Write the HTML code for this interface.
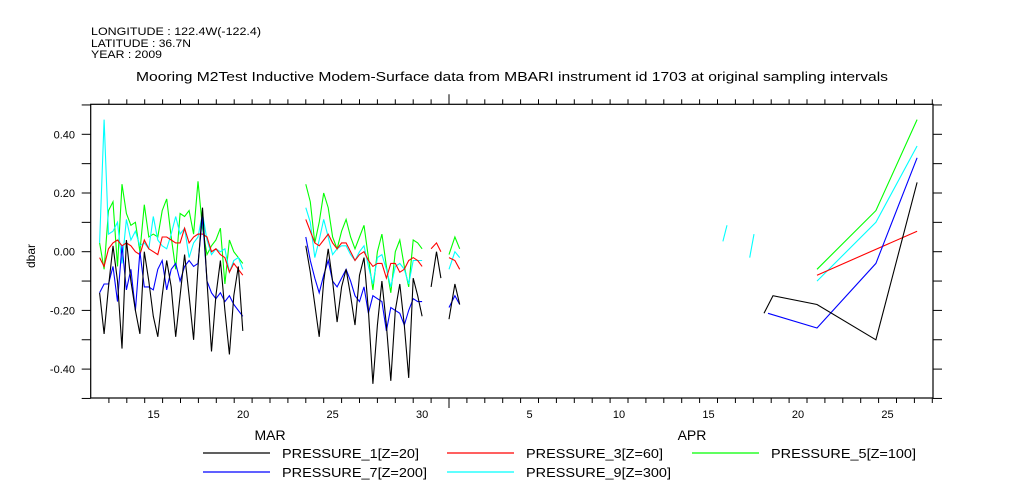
<!DOCTYPE html>
<html><head><meta charset="utf-8"><style>
html,body{margin:0;padding:0;background:#fff;}
svg{display:block;font-family:"Liberation Sans",sans-serif;}
</style></head><body>
<svg id="chart" width="1009" height="504" viewBox="0 0 1009 504" xmlns="http://www.w3.org/2000/svg">
<rect width="1009" height="504" fill="#fff"/>
<g font-size="11" fill="#000">
<text x="91" y="35" textLength="170" lengthAdjust="spacingAndGlyphs">LONGITUDE : 122.4W(-122.4)</text>
<text x="91" y="47" textLength="100" lengthAdjust="spacingAndGlyphs">LATITUDE : 36.7N</text>
<text x="91" y="58" textLength="71" lengthAdjust="spacingAndGlyphs">YEAR : 2009</text>
</g>
<text x="136" y="81" font-size="12.5" textLength="752" lengthAdjust="spacingAndGlyphs">Mooring M2Test Inductive Modem-Surface data from MBARI instrument id 1703 at original sampling intervals</text>
<g id="axes"></g>
<g id="series"></g>
<g id="legend"></g>
</svg>
<script>
const seg1Start = 12.48, seg2Start = 24.0, stepDays = 0.25;
const segATimes = [31.0, 31.3, 31.55];
const segBTimes = [32.0, 32.33, 32.6];
const aprTimes = [52.56, 55.85, 58.15];
const aprBlackTimes = [49.6, 50.1, 52.56, 55.85, 58.15];
const aprBlueTimes = [49.82, 52.56, 55.85, 58.15];
const aprRedTimes = [52.56, 58.15];
const cyanDash1Times = [47.3, 47.53];
const cyanDash2Times = [48.8, 49.04];

const p1Seg1 = [-0.14,-0.28,-0.12,0.02,-0.10,-0.33,0.04,-0.10,-0.20,-0.28,0.00,-0.10,-0.22,-0.29,-0.15,-0.03,-0.12,-0.29,-0.15,-0.01,-0.15,-0.30,-0.05,0.15,-0.10,-0.34,-0.15,-0.03,-0.20,-0.35,-0.15,-0.05,-0.27];
const p3Seg1 = [-0.02,-0.05,0.01,0.03,0.04,0.02,0.03,0.02,0.00,-0.01,0.04,0.01,0.00,-0.01,0.05,0.05,0.04,0.03,0.03,0.08,0.03,0.05,0.06,0.06,0.05,0.00,0.01,-0.01,-0.02,-0.07,-0.04,-0.06,-0.08];
const p5Seg1 = [0.03,-0.06,0.14,0.17,-0.05,0.23,0.13,0.09,0.10,0.00,0.16,0.05,0.06,0.05,0.14,0.18,0.05,-0.06,0.13,0.12,0.14,0.06,0.24,0.08,-0.01,0.02,0.04,0.08,-0.11,0.04,0.00,-0.02,-0.04];
const p7Seg1 = [-0.14,-0.11,-0.11,-0.05,-0.17,0.02,-0.13,-0.06,-0.20,0.00,-0.12,-0.12,-0.13,-0.06,-0.03,-0.13,-0.06,-0.04,-0.10,-0.05,-0.03,-0.05,-0.04,0.12,-0.10,-0.14,-0.16,-0.14,-0.17,-0.15,-0.18,-0.20,-0.22];
const p9Seg1 = [0.03,0.45,0.06,0.07,0.10,-0.04,0.11,0.04,0.07,0.02,0.03,0.01,0.12,0.04,0.02,0.01,0.06,0.12,0.06,0.08,-0.02,0.03,0.05,0.13,0.04,-0.01,0.01,0.00,0.01,-0.07,-0.03,-0.02,-0.06];

const p1Seg2 = [0.02,-0.07,-0.18,-0.29,-0.10,0.01,-0.10,-0.24,-0.12,-0.06,-0.15,-0.25,-0.08,-0.02,-0.20,-0.45,-0.25,-0.10,-0.25,-0.44,-0.20,-0.11,-0.25,-0.43,-0.09,-0.15,-0.22];
const p3Seg2 = [0.11,0.07,0.03,0.02,0.04,0.06,0.03,0.01,0.03,0.03,0.00,-0.03,-0.01,0.00,-0.03,-0.05,-0.04,-0.04,-0.09,-0.04,-0.04,-0.07,-0.06,-0.03,-0.02,-0.03,-0.05];
const p5Seg2 = [0.23,0.17,0.03,0.10,0.20,0.15,0.05,0.01,0.07,0.11,0.05,0.01,0.05,0.09,-0.02,-0.13,0.00,0.06,-0.05,-0.14,0.00,0.04,-0.05,-0.12,0.04,0.03,0.01];
const p7Seg2 = [0.05,-0.03,-0.09,-0.14,-0.08,-0.03,-0.10,-0.12,-0.09,-0.06,-0.10,-0.15,-0.17,-0.12,-0.21,-0.15,-0.16,-0.17,-0.27,-0.19,-0.20,-0.21,-0.25,-0.20,-0.16,-0.17,-0.17];
const p9Seg2 = [0.15,0.10,-0.02,0.04,0.11,0.05,-0.01,0.01,0.02,0.02,-0.01,-0.03,0.00,0.02,-0.05,-0.11,-0.02,-0.01,-0.06,-0.12,-0.05,-0.04,-0.06,-0.11,-0.03,-0.03,-0.03];

const p1SegA = [-0.12, 0.00, -0.09];
const p3SegA = [0.01, 0.03, 0.00];
const p1SegB = [-0.23, -0.11, -0.18];
const p3SegB = [-0.02, -0.03, -0.06];
const p5SegB = [-0.01, 0.05, 0.01];
const p7SegB = [-0.19, -0.15, -0.18];
const p9SegB = [-0.06, 0.00, -0.02];

const p1Apr = [-0.21, -0.15, -0.18, -0.30, 0.236];
const p3Apr = [-0.08, 0.07];
const p5Apr = [-0.06, 0.14, 0.45];
const p7Apr = [-0.21, -0.26, -0.04, 0.32];
const p9Apr = [-0.10, 0.10, 0.36];
const p9Dash1 = [0.035, 0.09];
const p9Dash2 = [-0.02, 0.06];

const yTickValues = [0.40, 0.20, 0.00, -0.20, -0.40];
const yTickLabels = ["0.40", "0.20", "0.00", "-0.20", "-0.40"];
const xLabelDays = [15, 20, 25, 30, 36, 41, 46, 51, 56];
const xLabelText = ["15", "20", "25", "30", "5", "10", "15", "20", "25"];
const legendNames = ["PRESSURE_1[Z=20]", "PRESSURE_3[Z=60]", "PRESSURE_5[Z=100]", "PRESSURE_7[Z=200]", "PRESSURE_9[Z=300]"];
const legendColors = ["#000000", "#ff0000", "#00ff00", "#0000ff", "#00ffff"];
const legendWidths = [137, 137, 145, 145, 145];

const X0 = 90.7, X1 = 933, Y0 = 104.3, Y1 = 398;
function xs(t){ return 449 + (t - 32) * 17.9; }
function ys(v){ return 251.7 - v * 293.5; }
const NS = "http://www.w3.org/2000/svg";
function mk(tag, attrs, parent){ const e = document.createElementNS(NS, tag); for (const k in attrs) e.setAttribute(k, attrs[k]); parent.appendChild(e); return e; }
function seqTimes(start, n){ const a = []; for (let i = 0; i < n; i++) a.push(start + i * stepDays); return a; }

const axes = document.getElementById('axes');
const frame = mk('rect', {x: X0, y: Y0, width: X1 - X0, height: Y1 - Y0, fill: 'none', stroke: '#000', 'stroke-width': 1.2}, axes);


for (let d = 13; d <= 59; d++) {
  const x = xs(d);
  if (x < X0 || x > X1 + 0.5) continue;
  const long = (d === 32);
  const tb = mk('line', {x1: x, y1: Y1, x2: x, y2: Y1 + (long ? 10 : 5), stroke: '#000', 'stroke-width': 1}, axes);
  
  
  const tt = mk('line', {x1: x, y1: Y0, x2: x, y2: Y0 - (long ? 10 : 5), stroke: '#000', 'stroke-width': 1}, axes);
  
  
}
for (let k = -5; k <= 5; k++) {
  const y = ys(k / 10);
  if (y < Y0 - 0.5 || y > Y1 + 0.5) continue;
  const tl = mk('line', {x1: X0 - 9, y1: y, x2: X0, y2: y, stroke: '#000', 'stroke-width': 1}, axes);
  
  
  const tr = mk('line', {x1: X1, y1: y, x2: X1 + 9, y2: y, stroke: '#000', 'stroke-width': 1}, axes);
  
  
}
yTickValues.forEach((v, i) => {
  const t = mk('text', {x: 75, y: ys(v) + 4, 'font-size': 11, 'text-anchor': 'end'}, axes);
  t.textContent = yTickLabels[i];
  
  
});
xLabelDays.forEach((d, i) => {
  const t = mk('text', {x: xs(d + 0.5), y: 418, 'font-size': 11, 'text-anchor': 'middle'}, axes);
  t.textContent = xLabelText[i];
  
  
});
const mar = mk('text', {x: 270, y: 440, 'font-size': 14, 'text-anchor': 'middle'}, axes);
mar.textContent = 'MAR';


const apr = mk('text', {x: 692, y: 440, 'font-size': 14, 'text-anchor': 'middle'}, axes);
apr.textContent = 'APR';


const yt = mk('text', {x: 0, y: 0, 'font-size': 12, 'text-anchor': 'middle', transform: 'translate(35,256) rotate(-90)'}, axes);
yt.textContent = 'dbar';



const series = document.getElementById('series');
function line(times, vals, color, name){
  const pts = times.map((t, i) => xs(t).toFixed(1) + ',' + ys(vals[i]).toFixed(1)).join(' ');
  const p = mk('polyline', {points: pts, fill: 'none', stroke: color, 'stroke-width': 1.1}, series);
  
  
}
const t1 = seqTimes(seg1Start, p1Seg1.length), t2 = seqTimes(seg2Start, p1Seg2.length);
line(t1, p5Seg1, '#00ff00', 'pressure-5-line'); line(t2, p5Seg2, '#00ff00', 'pressure-5-line');
line(segBTimes, p5SegB, '#00ff00', 'pressure-5-line'); line(aprTimes, p5Apr, '#00ff00', 'pressure-5-line');
line(t1, p9Seg1, '#00ffff', 'pressure-9-line'); line(t2, p9Seg2, '#00ffff', 'pressure-9-line');
line(segBTimes, p9SegB, '#00ffff', 'pressure-9-line'); line(aprTimes, p9Apr, '#00ffff', 'pressure-9-line');
line(cyanDash1Times, p9Dash1, '#00ffff', 'pressure-9-line'); line(cyanDash2Times, p9Dash2, '#00ffff', 'pressure-9-line');
line(t1, p3Seg1, '#ff0000', 'pressure-3-line'); line(t2, p3Seg2, '#ff0000', 'pressure-3-line');
line(segATimes, p3SegA, '#ff0000', 'pressure-3-line'); line(segBTimes, p3SegB, '#ff0000', 'pressure-3-line');
line(aprRedTimes, p3Apr, '#ff0000', 'pressure-3-line');
line(t1, p7Seg1, '#0000ff', 'pressure-7-line'); line(t2, p7Seg2, '#0000ff', 'pressure-7-line');
line(segBTimes, p7SegB, '#0000ff', 'pressure-7-line'); line(aprBlueTimes, p7Apr, '#0000ff', 'pressure-7-line');
line(t1, p1Seg1, '#000000', 'pressure-1-line'); line(t2, p1Seg2, '#000000', 'pressure-1-line');
line(segATimes, p1SegA, '#000000', 'pressure-1-line'); line(segBTimes, p1SegB, '#000000', 'pressure-1-line');
line(aprBlackTimes, p1Apr, '#000000', 'pressure-1-line');

const legend = document.getElementById('legend');
const colX = [203, 447, 692];
const rowY = [453, 472];
legendNames.forEach((n, i) => {
  const cx = colX[i % 3], cy = rowY[Math.floor(i / 3)];
  const g = mk('g', {}, legend);
  
  
  const l = mk('line', {x1: cx, y1: cy, x2: cx + 67, y2: cy, stroke: legendColors[i], 'stroke-width': 1.2}, g);
  
  
  const t = mk('text', {x: cx + 79, y: cy + 5, 'font-size': 13, textLength: legendWidths[i], lengthAdjust: 'spacingAndGlyphs'}, g);
  t.textContent = n;
  
  
});
</script>
</body></html>
